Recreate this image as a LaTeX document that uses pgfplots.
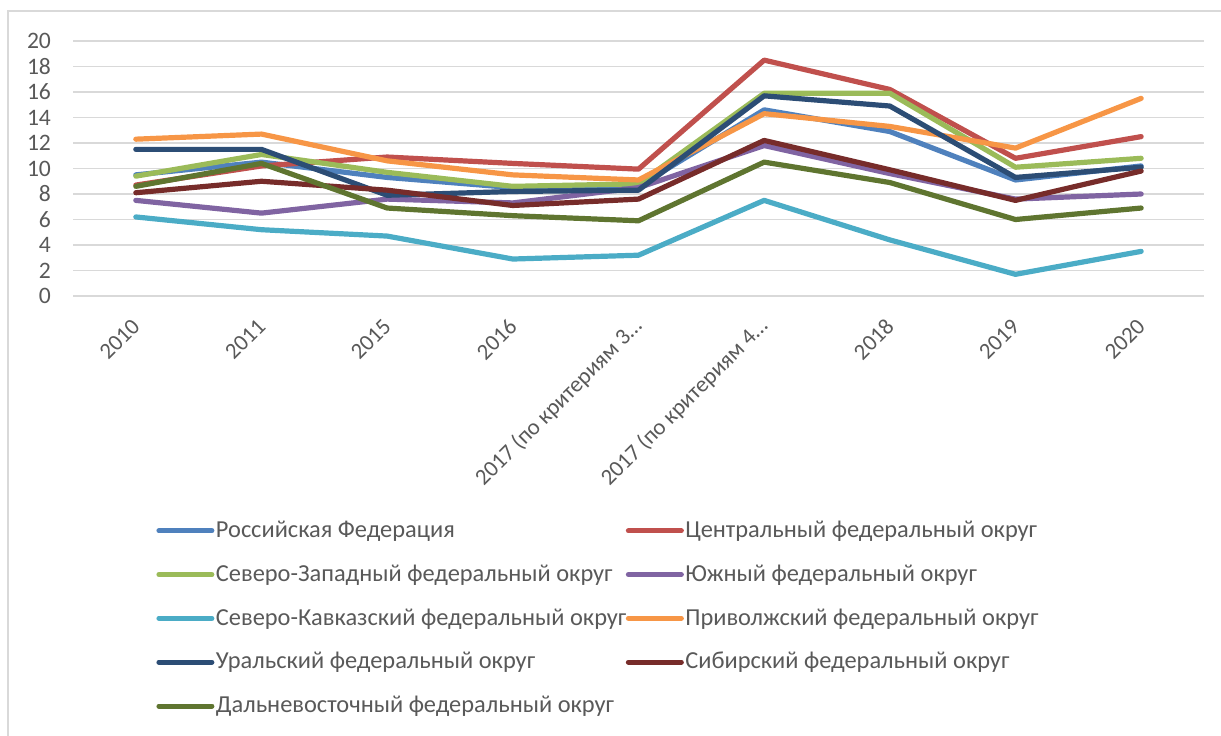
\documentclass[border=0pt]{standalone}
\usepackage{fontspec}
\setmainfont{Carlito}
\usepackage{pgfplots}
\pgfplotsset{compat=1.18}
\definecolor{gridgray}{HTML}{D9D9D9}
\definecolor{textgray}{HTML}{595959}
\definecolor{c1}{HTML}{4F81BD}
\definecolor{c2}{HTML}{C0504D}
\definecolor{c3}{HTML}{9BBB59}
\definecolor{c4}{HTML}{8064A2}
\definecolor{c5}{HTML}{4BACC6}
\definecolor{c6}{HTML}{F79646}
\definecolor{c7}{HTML}{2C4D75}
\definecolor{c8}{HTML}{772C2A}
\definecolor{c9}{HTML}{5F7530}
\begin{document}
\begin{tikzpicture}[x=1pt,y=1pt]
\useasboundingbox (0,0) rectangle (610.5,367.5);
\draw[color=gridgray, line width=0.7pt] (4,-20) rectangle (640,362);
\begin{axis}[
  at={(36.5pt,219.5pt)}, anchor=south west,
  scale only axis, width=565.5pt, height=127.5pt,
  xmin=-0.5, xmax=8.5, ymin=0, ymax=20,
  xtick={0,...,8},
  xticklabels={2010,2011,2015,2016,{2017 (по критериям 3…},{2017 (по критериям 4…},2018,2019,2020},
  ytick={0,2,...,20},
  axis line style={draw=none},
  tick style={draw=none},
  ymajorgrids, grid style={color=gridgray, line width=0.8pt},
  xticklabel style={xshift=2.5pt, yshift=-11pt, rotate=45, anchor=east, font=\fontsize{11.4}{13}\selectfont, text=textgray},
  yticklabel style={xshift=-7.5pt, font=\fontsize{11.8}{13}\selectfont, text=textgray},
  /pgf/number format/assume math mode=true,
  legend columns=2,
  legend style={draw=none, fill=none, inner sep=0pt,
    at={(0.0734,-0.875)}, anchor=north west,
    font=\fontsize{12.2}{13}\selectfont, text=textgray,
    nodes={inner sep=0.75pt}, row sep=10.65pt,
    /tikz/every even column/.append style={column sep=-1pt},
    cells={anchor=west}},
  legend image code/.code={\draw[#1, line width=2.5pt, line cap=round] (1.25pt,0pt) -- (27.75pt,0pt);},
  every axis plot/.append style={line width=2.6pt, line cap=round, line join=round, mark=none},
]
\addplot[c1] coordinates {(0,9.5)(1,10.5)(2,9.3)(3,8.5)(4,8.6)(5,14.6)(6,12.9)(7,9.1)(8,10.2)};
\addlegendentry{Российская Федерация}
\addplot[c2] coordinates {(0,8.7)(1,10.2)(2,10.9)(3,10.4)(4,9.95)(5,18.5)(6,16.2)(7,10.8)(8,12.5)};
\addlegendentry{Центральный федеральный округ}
\addplot[c3] coordinates {(0,9.4)(1,11.1)(2,9.7)(3,8.6)(4,8.8)(5,15.9)(6,15.9)(7,10.1)(8,10.8)};
\addlegendentry{Северо-Западный федеральный округ}
\addplot[c4] coordinates {(0,7.5)(1,6.5)(2,7.6)(3,7.3)(4,8.5)(5,11.8)(6,9.6)(7,7.6)(8,8.0)};
\addlegendentry{Южный федеральный округ}
\addplot[c5] coordinates {(0,6.2)(1,5.2)(2,4.7)(3,2.9)(4,3.2)(5,7.5)(6,4.4)(7,1.7)(8,3.5)};
\addlegendentry{Северо-Кавказский федеральный округ}
\addplot[c6] coordinates {(0,12.3)(1,12.7)(2,10.6)(3,9.5)(4,9.1)(5,14.3)(6,13.3)(7,11.6)(8,15.5)};
\addlegendentry{Приволжский федеральный округ}
\addplot[c7] coordinates {(0,11.5)(1,11.5)(2,7.9)(3,8.2)(4,8.3)(5,15.7)(6,14.9)(7,9.3)(8,10.1)};
\addlegendentry{Уральский федеральный округ}
\addplot[c8] coordinates {(0,8.1)(1,9.0)(2,8.3)(3,7.1)(4,7.6)(5,12.2)(6,9.9)(7,7.5)(8,9.8)};
\addlegendentry{Сибирский федеральный округ}
\addplot[c9] coordinates {(0,8.6)(1,10.4)(2,6.9)(3,6.3)(4,5.9)(5,10.5)(6,8.9)(7,6.0)(8,6.9)};
\addlegendentry{Дальневосточный федеральный округ}
\end{axis}
\end{tikzpicture}
\end{document}
